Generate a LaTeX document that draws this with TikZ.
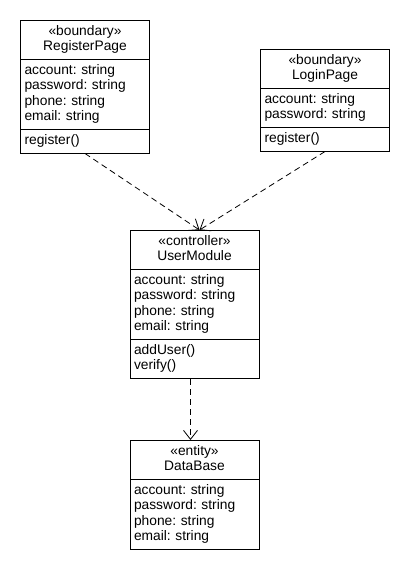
\documentclass[tikz,border=0pt]{standalone}
\usepackage{fontspec}
\setmainfont{Liberation Sans}
\usetikzlibrary{shapes.multipart,arrows.meta}
\tikzset{umlclass/.style={draw, line width=1pt, rectangle split, rectangle split draw splits,
   text width=121pt, inner xsep=4pt, inner ysep=3.5pt,
   font=\fontsize{13.8}{15.5}\selectfont\frenchspacing},
   dep/.style={line width=0.8pt, dash pattern=on 6pt off 4pt, -{Straight Barb[length=9pt,width=14pt]}}}

\begin{document}
\begin{tikzpicture}[x=1pt,y=-1pt]
   \fill[white] (0,0) rectangle (410,570);
   \useasboundingbox (0,0) rectangle (410,570);
   \node[umlclass, rectangle split parts=3, anchor=north] (reg) at (85,20)
     {\centering\strut«boundary»\par\strut RegisterPage\par
      \nodepart{two}\raggedright\strut account: string\\\strut password: string\\\strut phone: string\\\strut email: string
      \nodepart{three}\raggedright\strut register()};
   \node[umlclass, rectangle split parts=3, anchor=north] (login) at (325,49)
     {\centering\strut«boundary»\par\strut LoginPage\par
      \nodepart{two}\raggedright\strut account: string\\\strut password: string
      \nodepart{three}\raggedright\strut register()};
   \node[umlclass, rectangle split parts=3, anchor=north] (um) at (194.5,230)
     {\centering\strut«controller»\par\strut UserModule\par
      \nodepart{two}\raggedright\strut account: string\\\strut password: string\\\strut phone: string\\\strut email: string
      \nodepart{three}\raggedright\strut addUser()\\\strut verify()};
   \node[umlclass, rectangle split parts=2, anchor=north] (db) at (194.5,440)
     {\centering\strut«entity»\par\strut DataBase\par
      \nodepart{two}\raggedright\strut account: string\\\strut password: string\\\strut phone: string\\\strut email: string};
   % dependencies
   \draw[dep] (reg.south) -- ([xshift=5pt]um.north);
   \draw[dep] (login.south) -- ([xshift=5pt]um.north);
   \draw[dep] ([xshift=-4pt]um.south) -- ([xshift=-4pt]db.north);
\end{tikzpicture}
\end{document}
